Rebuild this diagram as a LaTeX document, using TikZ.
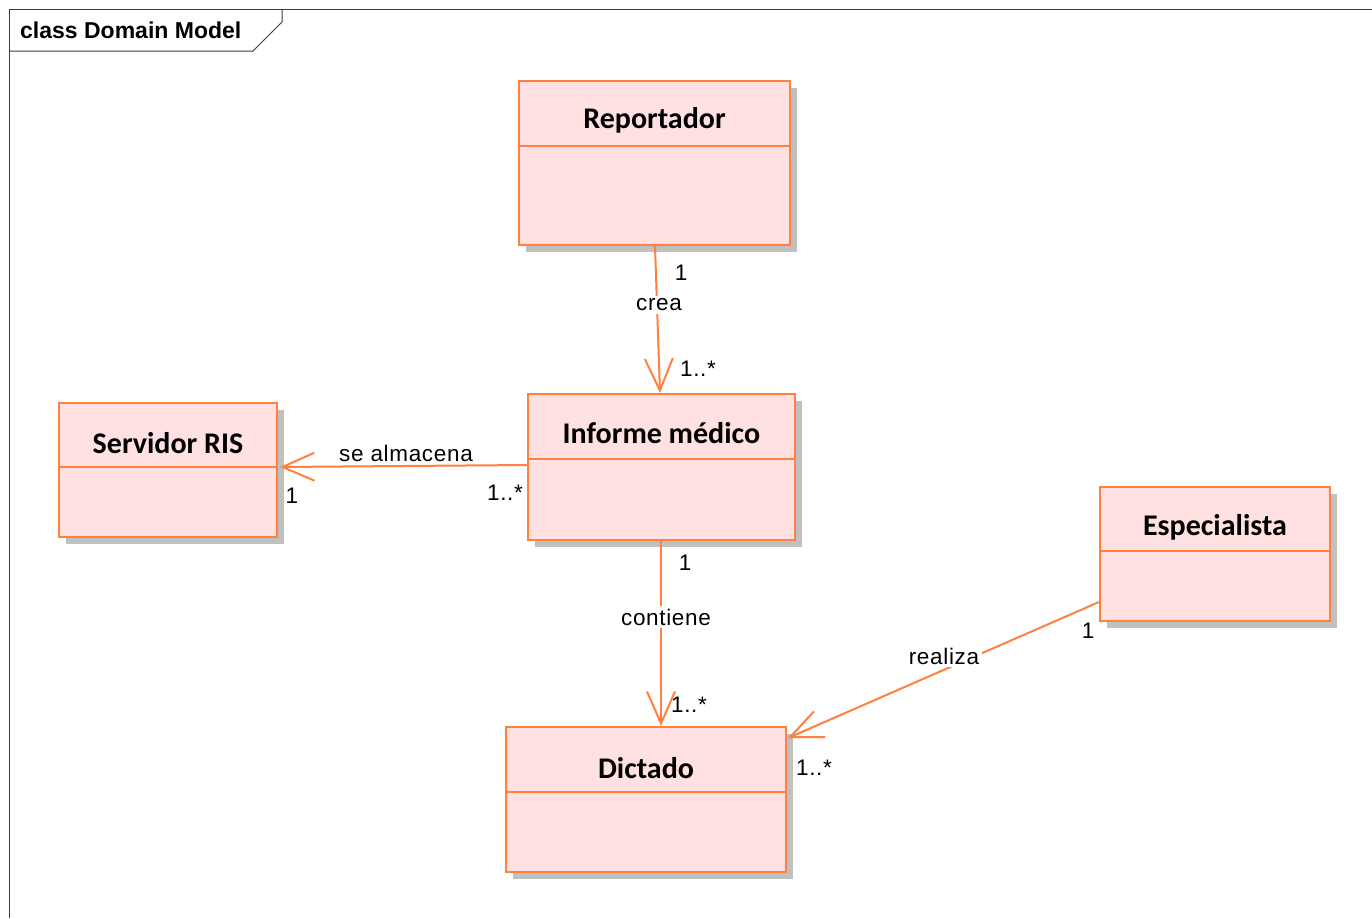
\documentclass[tikz,border=0pt]{standalone}
\usepackage{fontspec}
\setmainfont{Liberation Sans}
\newfontfamily\classfont{Carlito}
\usetikzlibrary{arrows.meta,calc,shadows}
\definecolor{umlborder}{RGB}{255,128,64}
\definecolor{umlfill}{RGB}{255,225,225}
\definecolor{umlshadow}{RGB}{192,192,192}
\definecolor{framegray}{RGB}{60,60,60}
\begin{document}
\begin{tikzpicture}[x=1pt,y=-1pt,
  classbox/.style={draw=umlborder,fill=umlfill,line width=2pt,inner sep=0pt,
    copy shadow={shadow xshift=7pt,shadow yshift=-7pt,fill=umlshadow,draw=none}},
  classname/.style={font=\classfont\bfseries\fontsize{30}{35}\selectfont,inner sep=0pt},
  sep/.style={draw=umlborder,line width=2pt},
  assoc/.style={draw=umlborder,line width=2pt},
  nav/.style={assoc,-{Straight Barb[length=32pt,width=28pt,line width=2pt]}},
  lbl/.style={font=\fontsize{22.5}{27}\selectfont\addfontfeature{LetterSpace=3},inner sep=1pt},
  gaplbl/.style={lbl,fill=white,inner sep=3pt},
  mult/.style={font=\fontsize{22.5}{27}\selectfont\addfontfeature{LetterSpace=3},inner sep=0pt}]
\useasboundingbox (0,0) rectangle (1372,918);
\fill[white] (0,0) rectangle (1372,918);

% frame with its tab
\draw[framegray,line width=1pt] (9,918) -- (9,9) -- (1372,9);
\draw[framegray,line width=1pt] (9,51) -- (253,51) -- (282,22) -- (282,9);
\node[anchor=west,font=\bfseries\fontsize{23}{27}\selectfont,inner sep=0pt] (title) at (20,30) {class Domain Model};

% classes
\node[classbox,minimum width=271pt,minimum height=164pt] (rep) at (654.5,163) {};
\node[classbox,minimum width=267pt,minimum height=146pt] (inf) at (661.5,467) {};
\node[classbox,minimum width=218pt,minimum height=134pt] (ris) at (168,470) {};
\node[classbox,minimum width=230pt,minimum height=134pt] (esp) at (1215,554) {};
\node[classbox,minimum width=280pt,minimum height=145pt] (dic) at (646,799.5) {};

% compartment separators
\draw[sep] ($(rep.north west)+(0,66)$) -- ($(rep.north east)+(0,66)$);
\draw[sep] ($(inf.north west)+(0,66)$) -- ($(inf.north east)+(0,66)$);
\draw[sep] ($(ris.north west)+(0,65)$) -- ($(ris.north east)+(0,65)$);
\draw[sep] ($(esp.north west)+(0,65)$) -- ($(esp.north east)+(0,65)$);
\draw[sep] ($(dic.north west)+(0,66)$) -- ($(dic.north east)+(0,66)$);

% class names
\node[classname] (repname) at ($(rep.north)+(0,40)$) {Reportador};
\node[classname] (infname) at ($(inf.north)+(0,40)$) {Informe médico};
\node[classname] (risname) at ($(ris.north)+(0,41)$) {Servidor RIS};
\node[classname] (espname) at ($(esp.north)+(0,41)$) {Especialista};
\node[classname] (dicname) at ($(dic.north)+(0,42)$) {Dictado};

% associations
\coordinate (creaA) at ($(rep.south west)+(137,0)$);
\coordinate (creaB) at ($(inf.north west)+(133,0)$);
\draw[nav] (creaA) -- (creaB);
\node[gaplbl] (crea) at (659,305) {crea};

\coordinate (almA) at ($(inf.north west)+(0,72)$);
\coordinate (almB) at ($(ris.north east)+(2,65)$);
\draw[nav] (almA) -- (almB);
\node[lbl] (alm) at (406,453) {se almacena};

\coordinate (conA) at ($(inf.south west)+(134,0)$);
\coordinate (conB) at ($(dic.north west)+(156,0)$);
\draw[nav] (conA) -- (conB);
\node[gaplbl] (con) at (666,617) {contiene};

\coordinate (reaA) at ($(esp.north west)+(0,116)$);
\coordinate (reaB) at ($(dic.north east)+(1,12)$);
\draw[nav] (reaA) -- (reaB);
\node[gaplbl] (rea) at (944,656) {realiza};

% multiplicities
\node[mult] (m1) at (681,273) {1};
\node[mult] (m2) at (698,369) {1..*};
\node[mult] (m3) at (292,496) {1};
\node[mult] (m4) at (505,493) {1..*};
\node[mult] (m5) at (685,563) {1};
\node[mult] (m6) at (689,705) {1..*};
\node[mult] (m7) at (1088,631) {1};
\node[mult] (m8) at (814,768) {1..*};
\end{tikzpicture}
\end{document}
